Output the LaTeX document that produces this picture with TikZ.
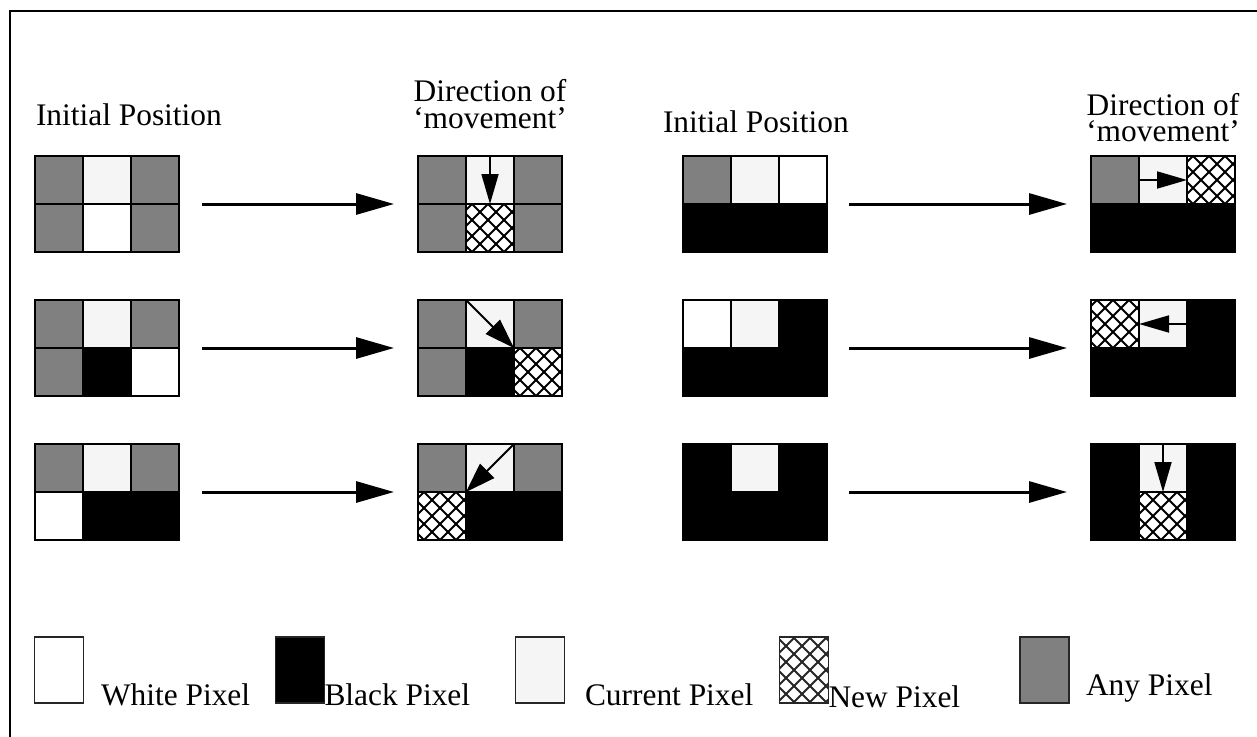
\documentclass[tikz,border=0pt]{standalone}
\usepackage{fontspec}
\setmainfont{Liberation Serif}
\usetikzlibrary{arrows.meta,calc}
\definecolor{anyc}{RGB}{128,128,128}
\definecolor{curc}{RGB}{245,245,245}
\tikzset{
  cell/.style={draw=black,line width=1.8pt,minimum width=48pt,minimum height=48pt,inner sep=0pt,outer sep=0pt},
  wpx/.style={fill=white},
  bpx/.style={fill=black},
  cpx/.style={fill=curc},
  apx/.style={fill=anyc},
  npx/.style={fill=white,path picture={
      \foreach \k in {-7,...,7}{
        \draw[line width=1.9pt] ($(path picture bounding box.center)+(\k*16-54,-60)$) -- ++(120,120);
        \draw[line width=1.9pt] ($(path picture bounding box.center)+(\k*16-54,60)$) -- ++(120,-120);
      }}},
  legbox/.style={draw=black!85,line width=1.8pt,minimum width=49pt,minimum height=66pt,inner sep=0pt,outer sep=0pt},
  lbl/.style={font=\fontsize{31.4}{36}\selectfont,inner sep=0pt,outer sep=0pt},
  bigarrow/.style={line width=3pt,-{Triangle[length=38pt,width=21pt]}},
  smallarrow/.style={line width=1.8pt,-{Triangle[length=30pt,width=17pt]}},
  framestyle/.style={line width=2.6pt,line cap=rect},
}
\newcommand\pixgrid[9]{%
  \node[cell,#4] (#1-1) at (#2+24,#3+24) {};
  \node[cell,#5] (#1-2) at (#2+72,#3+24) {};
  \node[cell,#6] (#1-3) at (#2+120,#3+24) {};
  \node[cell,#7] (#1-4) at (#2+24,#3+72) {};
  \node[cell,#8] (#1-5) at (#2+72,#3+72) {};
  \node[cell,#9] (#1-6) at (#2+120,#3+72) {};
}
\begin{document}
\begin{tikzpicture}[x=1pt,y=-1pt]
\useasboundingbox (0,0) rectangle (1257,736);
\draw[framestyle] (10,740) -- (10,11) -- (1260,11);

% headings
\node[lbl,anchor=base west] (hIL) at (36,125) {Initial Position};
\node[lbl,anchor=base] (hDL1) at (490,101) {Direction of};
\node[lbl,anchor=base] (hDL2) at (490,128) {‘movement’};
\node[lbl,anchor=base west] (hIR) at (663,132) {Initial Position};
\node[lbl,anchor=base] (hDR1) at (1163,115) {Direction of};
\node[lbl,anchor=base] (hDR2) at (1163,141) {‘movement’};

% left column
\pixgrid{A1}{35}{156}{apx}{cpx}{apx}{apx}{wpx}{apx}
\pixgrid{B1}{418}{156}{apx}{cpx}{apx}{apx}{npx}{apx}
\pixgrid{A2}{35}{300}{apx}{cpx}{apx}{apx}{bpx}{wpx}
\pixgrid{B2}{418}{300}{apx}{cpx}{apx}{apx}{bpx}{npx}
\pixgrid{A3}{35}{444}{apx}{cpx}{apx}{wpx}{bpx}{bpx}
\pixgrid{B3}{418}{444}{apx}{cpx}{apx}{npx}{bpx}{bpx}

% right column
\pixgrid{C1}{683}{156}{apx}{cpx}{wpx}{bpx}{bpx}{bpx}
\pixgrid{D1}{1091}{156}{apx}{cpx}{npx}{bpx}{bpx}{bpx}
\pixgrid{C2}{683}{300}{wpx}{cpx}{bpx}{bpx}{bpx}{bpx}
\pixgrid{D2}{1091}{300}{npx}{cpx}{bpx}{bpx}{bpx}{bpx}
\pixgrid{C3}{683}{444}{bpx}{cpx}{bpx}{bpx}{bpx}{bpx}
\pixgrid{D3}{1091}{444}{bpx}{cpx}{bpx}{bpx}{npx}{bpx}

% transition arrows
\foreach \r in {1,2,3}{
  \draw[bigarrow] ([xshift=23pt]A\r-3.south east) -- ([xshift=-24pt]B\r-1.south west);
  \draw[bigarrow] ([xshift=22pt]C\r-3.south east) -- ([xshift=-24pt]D\r-1.south west);
}

% movement arrows
\draw[smallarrow] (B1-2.north) -- (B1-2.south);
\draw[smallarrow,-{Triangle[length=30pt,width=20pt]}] (B2-2.north west) -- (B2-2.south east);
\draw[smallarrow,-{Triangle[length=30pt,width=20pt]}] (B3-2.north east) -- (B3-2.south west);
\draw[smallarrow] (D1-2.west) -- (D1-2.east);
\draw[smallarrow] (D2-2.east) -- (D2-2.west);
\draw[smallarrow] (D3-2.north) -- (D3-2.south);

% legend
\node[legbox,wpx] (lgW) at (59,670) {};
\node[lbl,anchor=base west] (lgWt) at (101,705) {White Pixel};
\node[legbox,bpx] (lgB) at (300,670) {};
\node[lbl,anchor=base west] (lgBt) at (lgB.east |- 0,705) {Black Pixel};
\node[legbox,cpx] (lgC) at (540,670) {};
\node[lbl,anchor=base west] (lgCt) at (585,705) {Current Pixel};
\node[legbox,npx] (lgN) at (804,670) {};
\node[lbl,anchor=base west] (lgNt) at (lgN.east |- 0,707) {New Pixel};
\node[legbox,apx] (lgA) at (1044.5,670) {};
\node[lbl,anchor=base west] (lgAt) at (1086,695) {Any Pixel};
\end{tikzpicture}
\end{document}
